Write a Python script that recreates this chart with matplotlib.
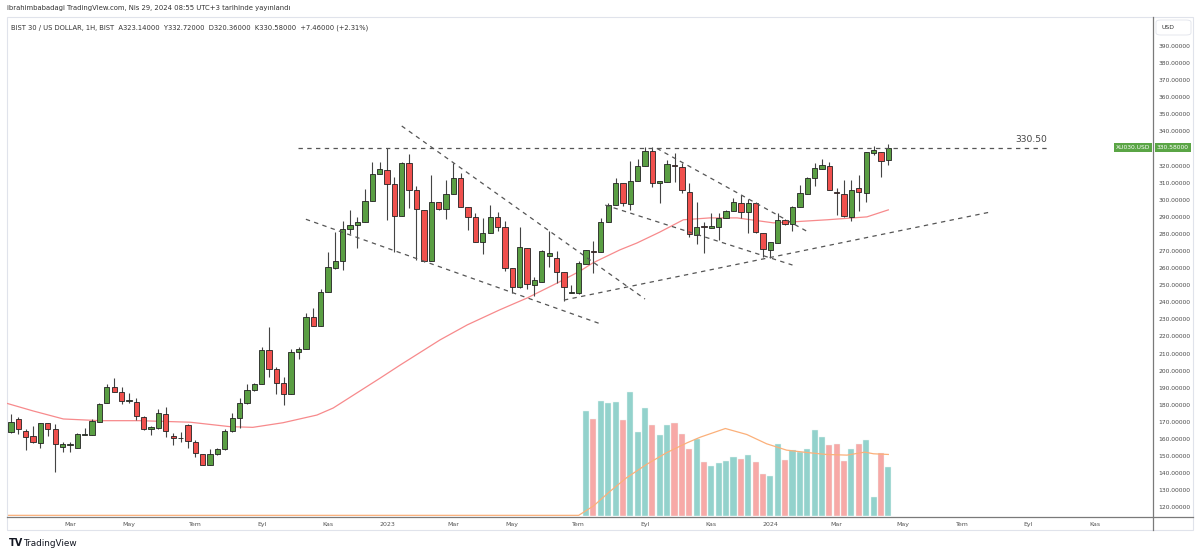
import matplotlib
matplotlib.use("Agg")
import matplotlib.pyplot as plt
from matplotlib.lines import Line2D
from matplotlib.patches import Rectangle, FancyBboxPatch

###########################################################
# data (weekly bars, index 0 = first bar)
###########################################################
opens = [163.9, 171.5, 164.7, 161.7, 157.4, 169.1, 165.8, 155.1, 156.3, 154.7,
         162.6, 162.5, 170.1, 180.9, 190.2, 187.3, 182.4, 181.8, 173.0, 165.6,
         166.2, 174.6, 161.9, 160.5, 168.2, 158.4, 151.0, 144.8, 151.0, 153.9,
         164.7, 172.1, 181.3, 188.7, 192.0, 212.1, 200.8, 192.6, 186.3, 210.7,
         212.5, 231.2, 226.3, 246.2, 260.3, 264.2, 282.7, 285.2, 287.2, 299.5,
         315.1, 317.4, 309.2, 290.5, 321.7, 305.7, 294.0, 264.4, 298.5, 294.4,
         303.2, 312.5, 296.0, 290.1, 275.5, 280.7, 289.7, 283.9, 259.9, 248.7,
         271.6, 250.1, 252.1, 267.3, 265.7, 257.5, 245.6, 245.2, 262.4, 269.8,
         269.6, 287.2, 296.9, 309.6, 297.5, 311.2, 320.0, 328.5, 309.6, 310.6,
         320.1, 319.0, 304.7, 279.4, 284.4, 283.7, 284.3, 289.5, 293.4, 298.3,
         293.0, 298.3, 280.4, 270.6, 274.9, 288.2, 285.6, 296.0, 303.4, 312.5,
         318.0, 320.0, 304.7, 303.4, 289.7, 306.7, 304.2, 327.2, 327.8, 323.14]
highs = [174.4, 173.1, 165.8, 167.6, 169.5, 169.3, 168.8, 158.4, 158.4, 163.7,
         166.2, 171.5, 180.9, 192.0, 195.5, 190.6, 186.7, 183.8, 173.4, 167.6,
         177.3, 178.9, 163.3, 163.9, 168.8, 159.4, 151.0, 154.0, 154.5, 165.6,
         175.0, 183.8, 192.2, 192.6, 214.0, 225.7, 202.3, 196.5, 212.5, 213.6,
         233.5, 236.5, 247.8, 269.2, 281.3, 287.6, 294.0, 290.1, 306.1, 321.9,
         322.1, 330.5, 313.1, 322.3, 326.8, 308.1, 294.0, 314.5, 298.5, 311.6,
         321.7, 315.5, 296.0, 292.1, 289.1, 296.9, 292.6, 287.8, 259.9, 284.3,
         271.6, 254.6, 270.6, 281.9, 270.2, 257.5, 250.1, 264.2, 270.6, 276.1,
         289.1, 297.9, 312.6, 309.6, 322.7, 323.7, 331.1, 331.1, 311.0, 323.3,
         327.2, 321.3, 309.6, 298.9, 286.8, 292.1, 292.1, 294.0, 300.8, 302.8,
         300.3, 298.9, 280.4, 275.5, 292.1, 288.6, 296.4, 308.6, 313.1, 321.3,
         323.7, 322.3, 306.7, 311.6, 311.6, 314.5, 327.8, 331.5, 327.8, 332.72]
lows = [163.5, 162.7, 153.5, 157.5, 154.5, 161.7, 140.5, 152.6, 152.6, 154.5,
        162.3, 162.3, 170.0, 180.8, 187.3, 180.5, 180.9, 171.1, 165.3, 162.3,
        166.1, 161.4, 156.5, 158.4, 154.5, 149.3, 144.7, 144.6, 150.9, 153.8,
        164.3, 166.2, 180.5, 188.3, 191.9, 196.1, 186.3, 179.9, 186.2, 206.6,
        212.4, 226.2, 226.2, 246.1, 259.3, 258.9, 279.8, 271.6, 287.1, 299.4,
        315.0, 288.2, 269.6, 290.4, 295.0, 264.8, 263.8, 264.3, 294.3, 288.6,
        303.1, 295.6, 282.3, 275.4, 268.3, 280.6, 281.9, 258.5, 245.6, 248.2,
        247.6, 243.7, 252.0, 260.8, 251.1, 241.0, 245.2, 245.1, 262.3, 257.3,
        269.5, 287.1, 296.8, 296.4, 294.0, 311.1, 319.9, 307.3, 298.3, 310.5,
        310.6, 304.2, 278.0, 274.1, 269.0, 283.3, 276.5, 289.1, 293.3, 289.1,
        280.4, 280.7, 266.7, 265.7, 274.5, 285.2, 281.9, 295.9, 303.3, 308.1,
        317.9, 305.6, 291.1, 290.1, 287.8, 293.6, 298.9, 326.2, 313.1, 320.36]
closes = [170.1, 165.7, 161.4, 158.0, 169.1, 165.6, 157.0, 156.9, 156.7, 162.9,
          162.8, 170.5, 180.5, 190.2, 187.7, 182.2, 182.5, 173.4, 165.6, 166.8,
          175.0, 164.9, 160.4, 160.3, 159.0, 151.6, 144.8, 151.2, 153.9, 164.7,
          172.1, 181.3, 188.7, 192.0, 212.1, 200.8, 193.0, 186.3, 210.7, 212.5,
          231.2, 226.3, 246.2, 260.9, 264.2, 282.7, 285.2, 287.2, 299.5, 315.1,
          317.8, 309.2, 290.5, 321.7, 305.7, 294.4, 264.4, 298.5, 294.4, 303.2,
          312.5, 296.0, 290.1, 275.5, 280.7, 289.7, 283.9, 259.9, 248.7, 272.6,
          250.5, 253.0, 270.2, 268.6, 257.9, 248.7, 245.8, 262.8, 270.6, 269.6,
          287.2, 296.9, 309.6, 297.9, 311.2, 320.0, 328.7, 310.0, 311.0, 320.7,
          320.0, 305.7, 280.0, 284.3, 284.2, 284.7, 289.5, 293.6, 298.9, 293.0,
          298.3, 281.3, 271.0, 275.1, 288.2, 285.6, 296.0, 303.8, 312.5, 318.4,
          320.4, 305.7, 303.8, 290.5, 305.7, 304.7, 327.8, 329.1, 322.9, 330.58]

# volume only exists from bar 78 on (relative units)
vol_start = 78
volumes = [315, 292, 345, 341, 343, 288, 372, 252, 325, 275,
           243, 275, 280, 247, 200, 230, 163, 149, 159, 165,
           176, 170, 184, 161, 125, 121, 216, 168, 197, 192,
           202, 258, 237, 214, 216, 166, 200, 216, 227, 57,
           189, 147]

# moving average of price, read at these bars
ma_bars = [-0.6, 3.0, 7.1, 12.1, 17.5, 24.3, 29.7, 32.8, 36.9, 41.5, 43.7, 46.9,
           50.1, 52.8, 58.2, 61.9, 66.3, 70.0, 74.1, 77.2, 78.9, 82.6, 84.9,
           88.0, 91.2, 94.8, 98.5, 103.4, 106.1, 110.7, 114.2, 116.1, 119.0]
ma_vals = [180.9, 176.4, 171.7, 170.7, 170.7, 169.8, 167.2, 166.8, 169.5, 174.0,
           178.1, 186.9, 195.7, 203.3, 218.0, 226.8, 235.6, 242.5, 251.3, 258.3,
           263.0, 270.7, 274.7, 281.1, 288.3, 289.4, 289.4, 286.5, 287.1, 288.3,
           289.4, 290.0, 294.1]

# moving average of volume
vma_bars = [-0.6, 77.0, 79.0, 81.3, 83.5, 86.2, 88.9, 91.7, 93.5, 96.9, 99.8,
            102.5, 105.2, 107.9, 110.6, 113.4, 115.8, 117.0, 119.0]
vma_vals = [2, 2, 30, 75, 115, 155, 190, 220, 237, 263, 245,
            217, 198, 191, 185, 183, 192, 187, 185]

# drawn lines: (bar, price) -> (bar, price)
trend_lines = [
    ((38.9, 330.5), (140.9, 330.5)),
    ((53.0, 343.2), (86.0, 241.9)),
    ((40.0, 288.6), (80.0, 227.3)),
    ((75.0, 241.3), (132.8, 292.8)),
    ((87.6, 330.1), (107.9, 281.7)),
    ((80.6, 296.9), (106.0, 261.8)),
]

x_tick_pos = [8, 16, 25, 34, 43, 51, 60, 68, 77, 86, 95, 103, 112, 121, 129, 138, 147]
x_tick_lab = ["Mar", "May", "Tem", "Eyl", "Kas", "2023", "Mar", "May", "Tem",
              "Eyl", "Kas", "2024", "Mar", "May", "Tem", "Eyl", "Kas"]
y_ticks = [p for p in range(120, 400, 10) if p != 330]

last_price = 330.58

###########################################################
W, H = 1200, 555
fig = plt.figure(figsize=(W / 100, H / 100), dpi=100)
fig.patch.set_facecolor("white")

def fx(px):
    return px / W

def fy(py):
    return 1 - py / H

ax_l, ax_r, ax_t, ax_b = 7, 1153, 17, 516
ax = fig.add_axes([fx(ax_l), fy(ax_b), (ax_r - ax_l) / W, (ax_b - ax_t) / H])
ax2 = ax.twinx()

GREEN = "#5a9e43"
RED = "#f0504d"

# volume
vx = [vol_start + i for i in range(len(volumes))]
vcol = []
for i in vx:
    vcol.append("#93d2cc" if closes[i] >= opens[i] else "#f7a9a7")
ax2.bar(vx, volumes, width=0.82, color=vcol, edgecolor="#eaf6f4", linewidth=0.3)
ax2.plot(vma_bars, vma_vals, color="#fbb07a", lw=0.9)
ax2.set_ylim(0, 1500)
ax2.set_yticks([])

# price moving average
ax.plot(ma_bars, ma_vals, color="#f78a8c", lw=0.9, zorder=2)

# candles
xs = list(range(len(opens)))
ax.vlines(xs, lows, highs, color="#444444", lw=0.8, zorder=3)
bottoms = [min(o, c) for o, c in zip(opens, closes)]
heights = [max(abs(c - o), 0.5) for o, c in zip(opens, closes)]
ccol = [GREEN if c >= o else RED for o, c in zip(opens, closes)]
ax.bar(xs, heights, bottom=bottoms, width=0.72, color=ccol,
       edgecolor="#222222", linewidth=0.6, zorder=4)

# trend lines
for (x0, y0), (x1, y1) in trend_lines:
    ax.plot([x0, x1], [y0, y1], color="#555555", lw=0.9,
            dashes=(3.5, 3.5), zorder=5)
ax.text(140.5, 335.4, "330.50", ha="right", va="center",
        fontsize=6.6, color="#444444")

ax.set_zorder(ax2.get_zorder() + 1)
ax.patch.set_visible(False)

ax.set_xlim(-0.54, 154.9)
ax.set_ylim(114.9, 407.0)
ax.yaxis.tick_right()
ax.set_yticks(y_ticks)
ax.set_yticklabels(["%.5f" % p for p in y_ticks])
ax.tick_params(axis="y", length=0, pad=4, labelsize=4.3, labelcolor="#4a4a4a")
ax.set_xticks(x_tick_pos)
ax.set_xticklabels(x_tick_lab)
ax.tick_params(axis="x", length=0, pad=4, labelsize=4.5, labelcolor="#555555")
for a in (ax, ax2):
    for s in a.spines.values():
        s.set_visible(False)

# last price labels
ax.annotate("%.5f" % last_price, xy=(1.0, last_price),
            xycoords=("axes fraction", "data"), xytext=(4, 0),
            textcoords="offset pixels", ha="left", va="center",
            fontsize=4.3, color="white",
            bbox=dict(boxstyle="square,pad=0.3", fc="#5aa545", ec="none"))
ax.annotate("XU030.USD", xy=(1.0, last_price),
            xycoords=("axes fraction", "data"), xytext=(-3, 0),
            textcoords="offset pixels", ha="right", va="center",
            fontsize=4.3, color="white",
            bbox=dict(boxstyle="square,pad=0.3", fc="#5aa545", ec="none"))

# frame and separators
fig.add_artist(Rectangle((fx(7), fy(530)), fx(1193 - 7), (530 - 17) / H,
                         transform=fig.transFigure, fill=False,
                         ec="#e0e3eb", lw=0.8))
fig.add_artist(Line2D([fx(7), fx(1193)], [fy(516.5), fy(516.5)],
                      transform=fig.transFigure, color="#7a7a7a", lw=0.9))
fig.add_artist(Line2D([fx(1153), fx(1153)], [fy(17), fy(530)],
                      transform=fig.transFigure, color="#7a7a7a", lw=0.9))
fig.add_artist(FancyBboxPatch((fx(1156), fy(35)), fx(35), 15 / H,
                              boxstyle="round,pad=0,rounding_size=0.004",
                              transform=fig.transFigure, fc="white",
                              ec="#e0e3eb", lw=0.6))
fig.text(fx(1162), fy(27.5), "USD", fontsize=4.4, color="#333333",
         ha="left", va="center")

# header
fig.text(fx(7), fy(8), "ibrahimbabadagi TradingView.com, Nis 29, 2024 08:55 UTC+3 tarihinde yayınlandı",
         fontsize=4.95, color="#333333", ha="left", va="center")
fig.text(fx(11), fy(28), "BIST 30 / US DOLLAR, 1H, BIST  A323.14000  Y332.72000  D320.36000  K330.58000  +7.46000 (+2.31%)",
         fontsize=4.85, color="#333333", ha="left", va="center")

# footer
fig.text(fx(9), fy(543), "TV", fontsize=7, fontweight="bold", color="#131722",
         ha="left", va="center")
fig.text(fx(23), fy(543), "TradingView", fontsize=6.4, color="#131722",
         ha="left", va="center")

fig.savefig("out.png", dpi=100)
